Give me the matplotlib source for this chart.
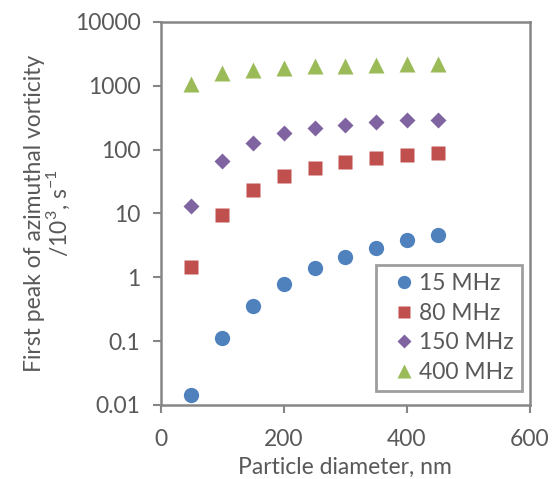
import matplotlib
matplotlib.use("Agg")
import matplotlib.pyplot as plt

plt.rcParams['font.family'] = ['Lato', 'DejaVu Sans']
plt.rcParams['mathtext.fontset'] = 'custom'
plt.rcParams['mathtext.rm'] = 'Lato'

# particle diameter, nm
diameter = [50, 100, 150, 200, 250, 300, 350, 400, 450]

# first peak of azimuthal vorticity, 10^3 s^-1
mhz15 = [0.0143, 0.112, 0.355, 0.79, 1.38, 2.1, 2.9, 3.8, 4.65]
mhz80 = [1.45, 9.5, 23, 38, 52, 63, 73, 83, 89]
mhz150 = [13, 67, 127, 179, 219, 244, 265, 285, 295]
mhz400 = [1050, 1590, 1780, 1900, 2000, 2050, 2100, 2150, 2170]

grey = '#595959'
edge = '#868686'
fs = 16.5

fig = plt.figure(figsize=(5.56, 4.79), dpi=100)
ax = fig.add_axes([0.289, 0.1545, 0.664, 0.800])

ax.plot(diameter, mhz15, 'o', color='#4F81BD', ms=11, mec='none', label='15 MHz')
ax.plot(diameter, mhz80, 's', color='#C0504D', ms=10, mec='none', label='80 MHz')
ax.plot(diameter, mhz150, 'D', color='#8064A2', ms=8.5, mec='none', label='150 MHz')
ax.plot(diameter, mhz400, '^', color='#9BBB59', ms=11, mec='none', label='400 MHz')

ax.set_yscale('log')
ax.set_ylim(0.01, 10000)
ax.set_xlim(0, 600)
ax.set_xticks([0, 200, 400, 600])
ax.set_yticks([0.01, 0.1, 1, 10, 100, 1000, 10000])
ax.set_yticklabels(['0.01', '0.1', '1', '10', '100', '1000', '10000'])
ax.minorticks_off()

for s in ax.spines.values():
    s.set_color(edge)
    s.set_linewidth(1.8)
ax.tick_params(colors=edge, labelcolor=grey, labelsize=fs, length=5.5, width=1.5,
               direction='out')
ax.tick_params(axis='x', pad=12)
ax.tick_params(axis='y', pad=9)

ax.set_xlabel('Particle diameter, nm', color=grey, fontsize=fs, labelpad=4.5)
ax.set_ylabel('First peak of azimuthal vorticity\n/10$^{\\mathregular{3}}$, s$^{\\mathregular{-1}}$',
              color=grey, fontsize=fs, labelpad=2, linespacing=1.0)

leg = ax.legend(loc='lower right', bbox_to_anchor=(0.978, 0.0365), fontsize=fs,
                frameon=True, fancybox=False, handletextpad=-0.22, borderpad=0.35,
                labelspacing=0.38, handlelength=1.75, borderaxespad=0, markerscale=0.87)
leg.get_frame().set_edgecolor(edge)
leg.get_frame().set_linewidth(2)
for t in leg.get_texts():
    t.set_color(grey)

fig.savefig('out.png', dpi=100)
